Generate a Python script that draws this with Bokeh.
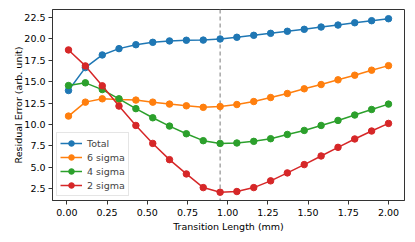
from bokeh.plotting import figure
from bokeh.models import Range1d, FixedTicker, PrintfTickFormatter, Span, Legend
from bokeh.embed import file_html
from bokeh.resources import INLINE

# ---- data ----
transition_length = [0.01, 0.115, 0.22, 0.324, 0.429, 0.534, 0.638, 0.743, 0.848, 0.953,
                     1.057, 1.162, 1.267, 1.371, 1.476, 1.581, 1.686, 1.79, 1.895, 2.0]
total = [13.97, 16.65, 18.13, 18.87, 19.33, 19.61, 19.77, 19.85, 19.87, 20.0,
         20.2, 20.43, 20.66, 20.9, 21.13, 21.4, 21.63, 21.9, 22.14, 22.37]
sigma6 = [10.98, 12.61, 13.0, 12.92, 12.85, 12.61, 12.38, 12.18, 12.0, 12.1,
          12.33, 12.68, 13.15, 13.62, 14.17, 14.67, 15.22, 15.76, 16.35, 16.88]
sigma4 = [14.55, 14.87, 14.08, 13.0, 11.85, 10.78, 9.81, 8.91, 8.1, 7.78,
          7.83, 8.02, 8.33, 8.83, 9.3, 9.88, 10.47, 11.1, 11.75, 12.38]
sigma2 = [18.72, 16.85, 14.52, 12.15, 9.88, 7.78, 5.88, 4.21, 2.61, 2.07,
          2.15, 2.61, 3.4, 4.33, 5.3, 6.31, 7.32, 8.3, 9.23, 10.12]
series_labels = ["Total", "6 sigma", "4 sigma", "2 sigma"]
marker_x = 0.953
x_ticks = [0.0, 0.25, 0.5, 0.75, 1.0, 1.25, 1.5, 1.75, 2.0]
y_ticks = [2.5, 5.0, 7.5, 10.0, 12.5, 15.0, 17.5, 20.0, 22.5]
x_label = "Transition Length (mm)"
y_label = "Residual Error (arb. unit)"

colors = ["#1f77b4", "#ff7f0e", "#2ca02c", "#d62728"]
FONT = "DejaVu Sans"
FS = "9.5px"

xmin, xmax = min(transition_length), max(transition_length)
xm = 0.05 * (xmax - xmin)

p = figure(width=407, height=234, output_backend="svg", toolbar_location=None,
           x_range=Range1d(xmin - xm, xmax + xm), y_range=Range1d(1.1, 23.45),
           min_border_left=52, min_border_right=3, min_border_top=9, min_border_bottom=33)
p.background_fill_color = "white"
p.border_fill_color = "white"
p.outline_line_color = "#333333"
p.outline_line_width = 1
p.xgrid.visible = False
p.ygrid.visible = False

span = Span(location=marker_x, dimension="height", line_color="#999999",
            line_dash="4 3", line_width=1.3, level="underlay")
p.add_layout(span)

items = []
for ys, c, lab in zip([total, sigma6, sigma4, sigma2], colors, series_labels):
    r1 = p.line(transition_length, ys, line_color=c, line_width=1.5)
    r2 = p.scatter(transition_length, ys, size=6.5, fill_color=c, line_color=c)
    items.append((lab, [r1, r2]))

legend = Legend(items=items, location="bottom_left")
legend.label_text_font = FONT
legend.label_text_font_size = FS
legend.label_height = 14
legend.glyph_height = 14
legend.glyph_width = 22
legend.spacing = 0
legend.padding = 3
legend.margin = 4
legend.label_standoff = 5
legend.border_line_color = "#cccccc"
legend.border_line_width = 1
legend.background_fill_alpha = 0.8
p.add_layout(legend)

for ax in (p.xaxis[0], p.yaxis[0]):
    ax.axis_line_color = "#333333"
    ax.major_tick_line_color = "#333333"
    ax.major_tick_out = 4
    ax.major_tick_in = 0
    ax.minor_tick_line_color = None
    ax.major_label_text_font = FONT
    ax.major_label_text_font_size = FS
    ax.major_label_text_color = "black"
    ax.axis_label_text_font = FONT
    ax.axis_label_text_font_size = FS
    ax.axis_label_text_font_style = "normal"
    ax.axis_label_text_color = "black"

p.xaxis.ticker = FixedTicker(ticks=x_ticks)
p.yaxis.ticker = FixedTicker(ticks=y_ticks)
p.xaxis.formatter = PrintfTickFormatter(format="%.2f")
p.yaxis.formatter = PrintfTickFormatter(format="%.1f")
p.xaxis.axis_label = x_label
p.yaxis.axis_label = y_label
p.xaxis.major_label_standoff = 4
p.yaxis.major_label_standoff = 3
p.xaxis.axis_label_standoff = 2
p.yaxis.axis_label_standoff = -3

open("out.html", "w").write(file_html(p, INLINE))
